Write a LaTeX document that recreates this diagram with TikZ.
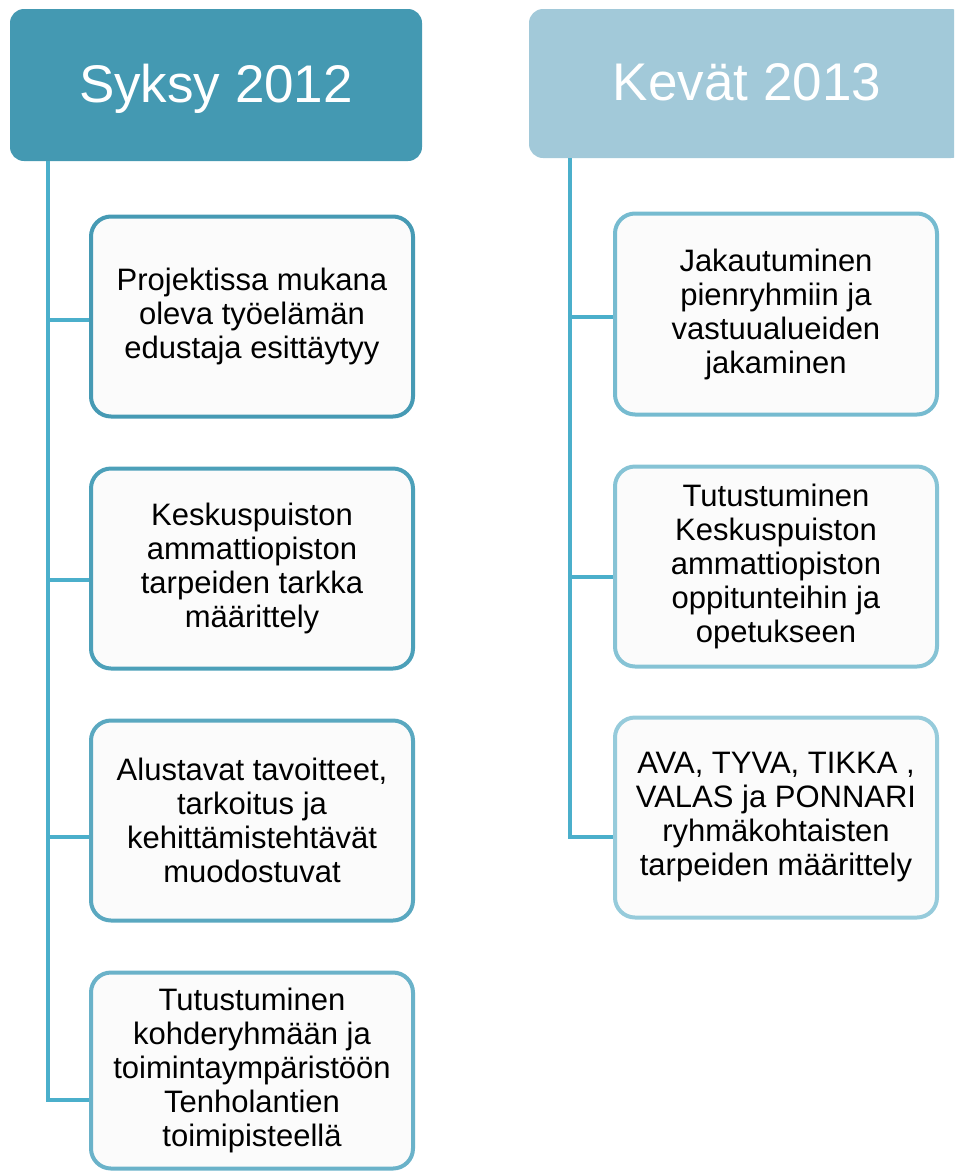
\documentclass[tikz,border=0pt]{standalone}
\usepackage{fontspec}
\setmainfont{Liberation Sans}
\definecolor{hdrdark}{RGB}{68,153,178}
\definecolor{hdrlight}{RGB}{162,201,217}
\definecolor{trunk}{RGB}{75,175,203}
\definecolor{bdA}{RGB}{70,154,180}
\definecolor{bdB}{RGB}{76,160,185}
\definecolor{bdC}{RGB}{90,168,192}
\definecolor{bdD}{RGB}{106,178,201}
\definecolor{bdE}{RGB}{118,187,208}
\definecolor{bdF}{RGB}{134,195,213}
\definecolor{bdG}{RGB}{150,203,219}
\definecolor{boxfill}{RGB}{251,251,251}
\tikzset{
  header/.style={rectangle, rounded corners=14pt, inner sep=0pt, draw=none},
  hdrtext/.style={anchor=base, text=white, font=\fontsize{53}{60}\selectfont, inner sep=0pt},
  taskbox/.style={rectangle, rounded corners=20pt, line width=4pt, fill=boxfill,
    align=center, inner sep=0pt, font=\fontsize{31}{34}\selectfont, text=black},
  link/.style={draw=trunk, line width=4pt}
}
\begin{document}
\begin{tikzpicture}[x=1pt,y=-1pt]
\useasboundingbox (0,0) rectangle (954,1171);
\clip (0,0) rectangle (954,1171);

% column headers
\node[header, fill=hdrdark, minimum width=412pt, minimum height=152pt] (hL) at (216,85) {};
\node[hdrtext] (hLt) at (216,102) {Syksy 2012};
\node[header, fill=hdrlight, minimum width=436pt, minimum height=149pt] (hR) at (747,83.5) {};
\node[hdrtext] (hRt) at (747,100) {Kevät 2013};

% left column boxes
\node[taskbox, draw=bdA, minimum width=322pt, minimum height=200pt] (L1) at (252,316.5)
  {Projektissa mukana\\oleva työelämän\\edustaja esittäytyy};
\node[taskbox, draw=bdB, minimum width=322pt, minimum height=200pt] (L2) at (252,568.5)
  {Keskuspuiston\\ammattiopiston\\tarpeiden tarkka\\määrittely};
\node[taskbox, draw=bdC, minimum width=322pt, minimum height=200pt] (L3) at (252,820.5)
  {Alustavat tavoitteet,\\tarkoitus ja\\kehittämistehtävät\\muodostuvat};
\node[taskbox, draw=bdD, minimum width=322pt, minimum height=196pt] (L4) at (252,1070.5)
  {Tutustuminen\\kohderyhmään ja\\toimintaympäristöön\\Tenholantien\\toimipisteellä};

% right column boxes
\node[taskbox, draw=bdE, minimum width=322pt, minimum height=201pt] (R1) at (776,314)
  {Jakautuminen\\pienryhmiin ja\\vastuualueiden\\jakaminen};
\node[taskbox, draw=bdF, minimum width=322pt, minimum height=200pt] (R2) at (776,566.5)
  {Tutustuminen\\Keskuspuiston\\ammattiopiston\\oppitunteihin ja\\opetukseen};
\node[taskbox, draw=bdG, minimum width=322pt, minimum height=200pt] (R3) at (776,817.5)
  {AVA, TYVA, TIKKA ,\\VALAS ja PONNARI\\ryhmäkohtaisten\\tarpeiden määrittely};

% trunk and branch points
\coordinate (tL) at (48,0);
\coordinate (tR) at (570,0);
\coordinate (yL1) at (0,320);
\coordinate (yL2) at (0,580);
\coordinate (yL3) at (0,837);
\coordinate (yL4) at (0,1100);
\coordinate (yR1) at (0,317);
\coordinate (yR2) at (0,577);
\coordinate (yR3) at (0,837);

% left connectors
\draw[link] (tL |- hL.south) -- (tL |- yL4) -- (L4.west |- yL4);
\draw[link] (tL |- yL1) -- (L1.west |- yL1);
\draw[link] (tL |- yL2) -- (L2.west |- yL2);
\draw[link] (tL |- yL3) -- (L3.west |- yL3);

% right connectors
\draw[link] (tR |- hR.south) -- (tR |- yR3) -- (R3.west |- yR3);
\draw[link] (tR |- yR1) -- (R1.west |- yR1);
\draw[link] (tR |- yR2) -- (R2.west |- yR2);
\end{tikzpicture}
\end{document}
